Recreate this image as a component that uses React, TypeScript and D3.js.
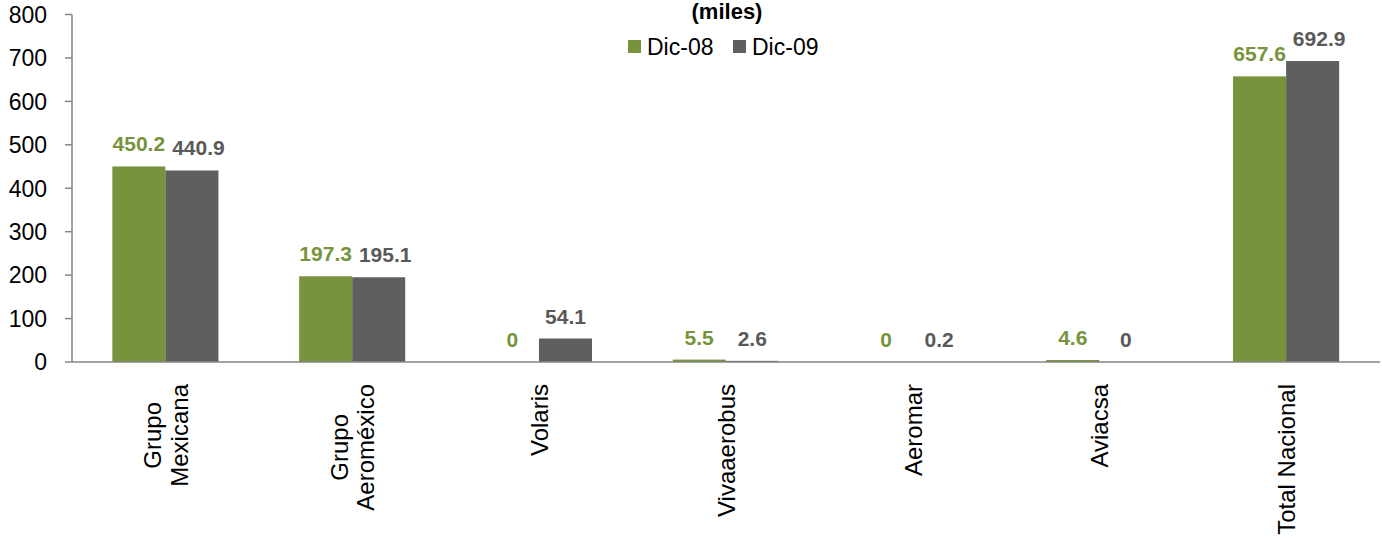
import React, { useEffect, useRef } from "react";
import * as d3 from "d3";

const categories: string[][] = [
  ["Grupo", "Mexicana"],
  ["Grupo", "Aeroméxico"],
  ["Volaris"],
  ["Vivaaerobus"],
  ["Aeromar"],
  ["Aviacsa"],
  ["Total Nacional"],
];
const seriesNames = ["Dic-08", "Dic-09"];
const dic08 = [450.2, 197.3, 0, 5.5, 0, 4.6, 657.6];
const dic09 = [440.9, 195.1, 54.1, 2.6, 0.2, 0, 692.9];
const yTicks = [0, 100, 200, 300, 400, 500, 600, 700, 800];
const titleText = "(miles)";

const W = 1382;
const H = 541;
const FONT = "'Liberation Sans', Arial, Helvetica, sans-serif";
const barColors = ["#77933C", "#5F5F5F"];
const labelColors = ["#77933C", "#595959"];
const axisColor = "#868686";

export default function App() {
  const ref = useRef<SVGSVGElement | null>(null);

  useEffect(() => {
    const svg = d3.select(ref.current);
    svg.selectAll("*").remove();

    const left = 72;
    const right = 1379.5;
    const top = 14.5;
    const bottom = 362;

    const keys = categories.map((c) => c.join(" "));
    const x = d3
      .scaleBand<string>()
      .domain(keys)
      .range([left, right])
      .paddingInner(0.432)
      .paddingOuter(0.216);
    const xs = d3
      .scaleBand<string>()
      .domain(seriesNames)
      .range([0, x.bandwidth()])
      .padding(0);
    const y = d3.scaleLinear().domain([0, 800]).range([bottom, top]);

    const seriesData = [dic08, dic09];

    // title
    svg
      .append("text")
      .attr("x", 727)
      .attr("y", 19)
      .attr("text-anchor", "middle")
      .attr("font-family", FONT)
      .attr("font-weight", "bold")
      .attr("font-size", 22)
      .attr("fill", "#000")
      .text(titleText);

    // legend
    const legendX = [628, 733];
    seriesNames.forEach((s, i) => {
      svg
        .append("rect")
        .attr("x", legendX[i])
        .attr("y", 40)
        .attr("width", 13)
        .attr("height", 13)
        .attr("fill", barColors[i]);
      svg
        .append("text")
        .attr("x", legendX[i] + 19)
        .attr("y", 54.5)
        .attr("font-family", FONT)
        .attr("font-size", 23)
        .attr("fill", "#000")
        .text(s);
    });

    // bars
    seriesData.forEach((vals, si) => {
      const g = svg.append("g");
      g.selectAll("rect")
        .data(vals)
        .join("rect")
        .attr("x", (_, i) => (x(keys[i]) as number) + (xs(seriesNames[si]) as number))
        .attr("y", (d) => y(d))
        .attr("width", xs.bandwidth())
        .attr("height", (d) => y(0) - y(d))
        .attr("fill", barColors[si]);
    });

    // y axis
    svg
      .append("line")
      .attr("x1", left)
      .attr("x2", left)
      .attr("y1", y(800))
      .attr("y2", y(0))
      .attr("stroke", axisColor)
      .attr("stroke-width", 1.5);
    yTicks.forEach((t) => {
      svg
        .append("line")
        .attr("x1", left - 7)
        .attr("x2", left)
        .attr("y1", y(t))
        .attr("y2", y(t))
        .attr("stroke", axisColor)
        .attr("stroke-width", 1.5);
      svg
        .append("text")
        .attr("x", 47)
        .attr("y", y(t))
        .attr("dy", "0.36em")
        .attr("text-anchor", "end")
        .attr("font-family", FONT)
        .attr("font-size", 23)
        .attr("fill", "#000")
        .text(String(t));
    });

    // x axis
    svg
      .append("line")
      .attr("x1", left)
      .attr("x2", 1380)
      .attr("y1", y(0))
      .attr("y2", y(0))
      .attr("stroke", axisColor)
      .attr("stroke-width", 1.5);

    // data labels (with simple collision avoidance between the pair)
    const minGap = 7;
    dic08.forEach((_, i) => {
      const placed: { cx: number; w: number }[] = [];
      seriesData.forEach((vals, si) => {
        const v = vals[i];
        let cx = (x(keys[i]) as number) + (xs(seriesNames[si]) as number) + xs.bandwidth() / 2;
        const t = svg
          .append("text")
          .attr("y", y(v) - 15)
          .attr("text-anchor", "middle")
          .attr("font-family", FONT)
          .attr("font-weight", "bold")
          .attr("font-size", 21)
          .attr("fill", labelColors[si])
          .text(String(v));
        const w = (t.node() as SVGTextElement).getComputedTextLength();
        if (placed.length) {
          const prev = placed[placed.length - 1];
          const minCx = prev.cx + prev.w / 2 + minGap + w / 2;
          if (cx < minCx) cx = minCx;
        }
        t.attr("x", cx);
        placed.push({ cx, w });
      });
    });

    // category labels (rotated)
    const lineH = 26.6;
    categories.forEach((lines, i) => {
      const cx = (x(keys[i]) as number) + x.bandwidth() / 2;
      const g = svg.append("g");
      const texts = lines.map((ln, li) =>
        g
          .append("text")
          .attr("x", 0)
          .attr("y", li * lineH)
          .attr("text-anchor", "middle")
          .attr("font-family", FONT)
          .attr("font-size", 24)
          .attr("fill", "#000")
          .text(ln)
      );
      const maxW = d3.max(texts, (t) => (t.node() as SVGTextElement).getComputedTextLength()) || 0;
      const tx = cx + 9 - ((lines.length - 1) * lineH) / 2;
      const ty = 384 + maxW / 2;
      g.attr("transform", `translate(${tx},${ty}) rotate(-90)`);
    });
  }, []);

  return (
    <svg
      ref={ref}
      width={W}
      height={H}
      style={{ position: "absolute", left: 0, top: 0, background: "#fff" }}
    />
  );
}
